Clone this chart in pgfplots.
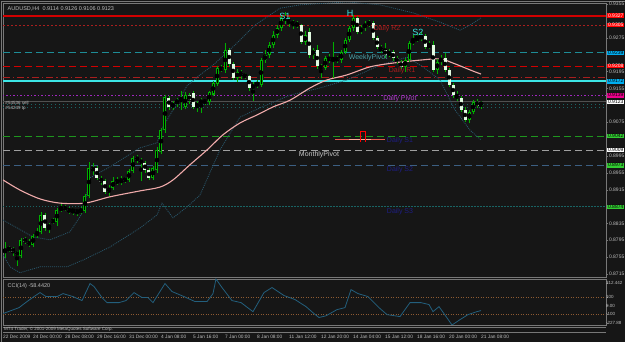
\documentclass[border=0pt]{standalone}
\usepackage{pgfplots}
\pgfplotsset{compat=1.18}
\usepackage{pgfplotstable}
\usepackage{fontspec}
\setmainfont{Liberation Sans}
\definecolor{bg}{RGB}{22,22,22}
\definecolor{frame}{RGB}{120,120,120}
\definecolor{cgreen}{RGB}{0,175,0}
\definecolor{cwhite}{RGB}{225,250,225}
\definecolor{ticktext}{RGB}{190,190,190}
\definecolor{maline}{RGB}{240,170,170}
\definecolor{band}{RGB}{40,85,105}
\definecolor{redl}{RGB}{210,0,0}
\definecolor{redd}{RGB}{170,30,30}
\definecolor{teal1}{RGB}{30,140,150}
\definecolor{cyan1}{RGB}{60,230,230}
\definecolor{magl}{RGB}{160,40,190}
\definecolor{grnl}{RGB}{30,150,30}
\definecolor{bluel}{RGB}{60,95,130}
\definecolor{navy1}{RGB}{30,30,130}
\definecolor{tealdot}{RGB}{25,100,100}
\definecolor{ccil}{RGB}{35,95,125}
\definecolor{ccilev}{RGB}{140,90,50}
\definecolor{grayA}{RGB}{80,80,80}
\definecolor{grayB}{RGB}{160,160,160}
\definecolor{silverT}{RGB}{200,200,200}
\definecolor{ordA}{RGB}{230,90,80}
\definecolor{ordB}{RGB}{255,170,150}
\definecolor{limeg}{RGB}{50,205,50}
\newcommand\fs[1]{\fontsize{#1}{#1}\selectfont}

\pgfplotstableread{
x o h l c
0 0.8767 0.8790 0.8752 0.8772
1 0.8772 0.8782 0.8766 0.8777
4 0.8758 0.8800 0.8752 0.8796
7 0.8784 0.8810 0.8780 0.8805
8 0.8805 0.8824 0.8800 0.8815
9 0.8815 0.8862 0.8810 0.8855
11 0.8824 0.8836 0.8812 0.8831
13 0.8838 0.8872 0.8830 0.8867
14 0.8867 0.8880 0.8862 0.8872
17 0.8864 0.8871 0.8856 0.8867
19 0.8862 0.8874 0.8858 0.8867
20 0.8864 0.8905 0.8860 0.8900
21 0.8900 0.8980 0.8895 0.8966
26 0.8910 0.8925 0.8900 0.8919
27 0.8919 0.8945 0.8914 0.8936
29 0.8931 0.8948 0.8926 0.8940
31 0.8938 0.8965 0.8934 0.8959
32 0.8959 0.8995 0.8955 0.8990
37 0.8943 0.8972 0.8938 0.8966
38 0.8961 0.9015 0.8955 0.9009
39 0.9004 0.9060 0.9000 0.9056
40 0.9056 0.9140 0.9050 0.9135
42 0.9111 0.9125 0.9104 0.9120
43 0.9120 0.9133 0.9112 0.9127
44 0.9127 0.9150 0.9104 0.9132
45 0.9111 0.9146 0.9106 0.9139
48 0.9111 0.9126 0.9100 0.9120
49 0.9120 0.9133 0.9096 0.9127
51 0.9123 0.9150 0.9115 0.9146
52 0.9141 0.9172 0.9137 0.9168
53 0.9166 0.9208 0.9160 0.9203
55 0.9199 0.9263 0.9192 0.9246
58 0.9180 0.9200 0.9170 0.9194
62 0.9156 0.9170 0.9125 0.9163
63 0.9163 0.9174 0.9155 0.9168
64 0.9163 0.9228 0.9158 0.9222
65 0.9222 0.9246 0.9215 0.9234
66 0.9234 0.9265 0.9228 0.9258
67 0.9258 0.9290 0.9250 0.9282
68 0.9282 0.9305 0.9275 0.9298
69 0.9298 0.9330 0.9290 0.9322
75 0.9265 0.9290 0.9258 0.9282
77 0.9234 0.9252 0.9225 0.9246
80 0.9203 0.9232 0.9198 0.9227
82 0.9222 0.9265 0.9180 0.9227
84 0.9222 0.9246 0.9216 0.9241
85 0.9241 0.9275 0.9236 0.9270
86 0.9270 0.9303 0.9265 0.9298
87 0.9298 0.9330 0.9292 0.9322
89 0.9289 0.9305 0.9284 0.9298
90 0.9298 0.9316 0.9292 0.9308
91 0.9308 0.9318 0.9300 0.9310
96 0.9234 0.9248 0.9230 0.9241
100 0.9206 0.9228 0.9195 0.9222
101 0.9222 0.9268 0.9218 0.9263
102 0.9263 0.9282 0.9258 0.9270
103 0.9270 0.9285 0.9266 0.9274
104 0.9274 0.9288 0.9268 0.9279
106 0.9253 0.9268 0.9248 0.9258
108 0.9199 0.9225 0.9190 0.9218
109 0.9218 0.9235 0.9210 0.9227
116 0.9080 0.9105 0.9072 0.9099
117 0.9099 0.9128 0.9094 0.9123
119 0.9114 0.9126 0.9106 0.9123
}\bull

\pgfplotstableread{
x o h l c
2 0.8777 0.8780 0.8758 0.8767
3 0.8767 0.8770 0.8735 0.8760
5 0.8800 0.8803 0.8786 0.8791
6 0.8791 0.8798 0.8778 0.8784
10 0.8855 0.8860 0.8818 0.8824
12 0.8843 0.8848 0.8833 0.8838
15 0.8874 0.8878 0.8864 0.8869
16 0.8869 0.8873 0.8858 0.8864
18 0.8867 0.8870 0.8853 0.8862
22 0.8966 0.8978 0.8950 0.8961
23 0.8966 0.8970 0.8938 0.8943
24 0.8943 0.8948 0.8925 0.8933
25 0.8936 0.8940 0.8905 0.8910
28 0.8936 0.8945 0.8925 0.8931
30 0.8940 0.8946 0.8930 0.8938
33 0.8992 0.8998 0.8978 0.8985
34 0.8985 0.8990 0.8935 0.8978
35 0.8978 0.8982 0.8955 0.8961
36 0.8961 0.8966 0.8938 0.8943
41 0.9132 0.9138 0.9105 0.9111
46 0.9139 0.9144 0.9118 0.9127
47 0.9144 0.9148 0.9106 0.9111
50 0.9127 0.9131 0.9115 0.9123
54 0.9203 0.9210 0.9194 0.9199
56 0.9246 0.9250 0.9206 0.9213
57 0.9213 0.9218 0.9176 0.9180
59 0.9194 0.9199 0.9178 0.9187
60 0.9187 0.9191 0.9178 0.9184
61 0.9184 0.9188 0.9150 0.9156
70 0.9322 0.9335 0.9308 0.9317
71 0.9317 0.9325 0.9300 0.9312
72 0.9312 0.9318 0.9296 0.9308
73 0.9308 0.9315 0.9298 0.9305
74 0.9305 0.9308 0.9260 0.9265
76 0.9288 0.9298 0.9228 0.9234
78 0.9246 0.9258 0.9200 0.9208
79 0.9208 0.9212 0.9180 0.9203
81 0.9227 0.9236 0.9215 0.9222
83 0.9227 0.9232 0.9216 0.9222
88 0.9322 0.9326 0.9284 0.9289
92 0.9310 0.9314 0.9270 0.9274
93 0.9274 0.9278 0.9248 0.9253
94 0.9253 0.9258 0.9238 0.9246
95 0.9246 0.9262 0.9228 0.9234
97 0.9241 0.9246 0.9220 0.9227
98 0.9227 0.9232 0.9212 0.9218
99 0.9218 0.9222 0.9200 0.9206
105 0.9279 0.9284 0.9248 0.9253
107 0.9258 0.9268 0.9194 0.9199
110 0.9227 0.9240 0.9194 0.9199
111 0.9199 0.9204 0.9158 0.9163
112 0.9163 0.9168 0.9132 0.9139
113 0.9139 0.9150 0.9125 0.9132
114 0.9132 0.9138 0.9100 0.9104
115 0.9104 0.9110 0.9075 0.9080
118 0.9123 0.9130 0.9108 0.9114
}\bear

\begin{document}
\begin{tikzpicture}
\path[use as bounding box] (0pt,0pt) rectangle (625pt,342pt);
\fill[bg] (0pt,0pt) rectangle (625pt,342pt);
\draw[frame,line width=0.8pt] (1.5pt,0pt) -- (1.5pt,340.5pt) -- (625pt,340.5pt);

% ---------------- main price panel ----------------
\begin{axis}[
  at={(3pt,65pt)}, anchor=south west, scale only axis,
  width=603pt, height=274pt,
  xmin=-0.5, xmax=150.25, ymin=0.87079, ymax=0.93574,
  clip mode=individual,
  axis line style={draw=frame, line width=0.8pt},
  xtick=\empty,
  ytick={0.8715,0.8755,0.8795,0.8835,0.8915,0.8955,0.8995,0.9075,0.9155,0.9195,0.9275,0.9355},
  yticklabels={0.8715,0.8755,0.8795,0.8835,0.8915,0.8955,0.8995,0.9075,0.9155,0.9195,0.9275,0.9355},
  ytick pos=right, yticklabel pos=right,
  tick align=outside, major tick length=2pt,
  tick style={draw=frame},
  yticklabel style={font=\fs{5}, text=ticktext, anchor=west, xshift=-2.5pt},
  /pgf/number format/assume math mode=true,
]
% pivot / level lines
\addplot[redl, line width=1.8pt] coordinates {(-0.5,0.9327) (150.25,0.9327)};
\addplot[redd, line width=0.9pt, dash pattern=on 2pt off 2pt] coordinates {(-0.5,0.9305) (150.25,0.9305)};
\addplot[teal1, line width=0.9pt, dash pattern=on 7pt off 4pt] coordinates {(-0.5,0.9239) (150.25,0.9239)};
\addplot[redl, line width=0.9pt, dash pattern=on 7pt off 4pt] coordinates {(-0.5,0.9208) (150.25,0.9208)};
\addplot[redd, line width=0.9pt, dash pattern=on 7pt off 3pt on 1.5pt off 3pt] coordinates {(-0.5,0.9182) (150.25,0.9182)};
\addplot[cyan1, line width=1.6pt] coordinates {(-0.5,0.9172) (150.25,0.9172)};
\addplot[magl, line width=0.9pt, dash pattern=on 1.5pt off 2pt] coordinates {(-0.5,0.9139) (150.25,0.9139)};
\addplot[grayA, line width=0.8pt] coordinates {(-0.5,0.9123) (150.25,0.9123)};
\addplot[tealdot, line width=0.6pt, dash pattern=on 1pt off 3pt] coordinates {(-0.5,0.9118) (150.25,0.9118)};
\addplot[tealdot, line width=0.6pt, dash pattern=on 1pt off 3pt] coordinates {(-0.5,0.9109) (150.25,0.9109)};
\addplot[grnl, line width=0.9pt, dash pattern=on 7pt off 4pt] coordinates {(-0.5,0.9042) (150.25,0.9042)};
\addplot[grayB, line width=0.9pt, dash pattern=on 7pt off 4pt] coordinates {(-0.5,0.9009) (150.25,0.9009)};
\addplot[bluel, line width=0.9pt, dash pattern=on 7pt off 4pt] coordinates {(-0.5,0.8973) (150.25,0.8973)};
\addplot[tealdot, line width=0.9pt, dash pattern=on 1.5pt off 1.5pt] coordinates {(-0.5,0.8874) (150.25,0.8874)};

% Bollinger bands
\addplot[band, line width=0.8pt, dash pattern=on 1pt off 1pt] coordinates {
(-0.5,0.8843) (7,0.8803) (11.25,0.8796) (16.25,0.8815) (19.5,0.8862) (21.25,0.8943)
(26.25,0.8969) (33.75,0.9014) (38,0.9026) (39.5,0.9064) (42,0.9104) (45.5,0.9161)
(48.75,0.9187) (52,0.9210) (57.5,0.9258) (62.5,0.9305) (68.75,0.9345) (73.75,0.9353)
(85.5,0.9360) (93.75,0.9353) (102,0.9334) (108.75,0.9312) (113.75,0.9293)
(116.25,0.9305) (119,0.9322)};
\addplot[band, line width=0.8pt, dash pattern=on 1pt off 1pt] coordinates {
(-0.5,0.8760) (1.25,0.8732) (3.75,0.8718) (8.75,0.8732) (15.5,0.8732) (19.5,0.8748)
(26.25,0.8779) (33.75,0.8824) (38,0.8855) (39.25,0.8883) (42,0.8848) (45.5,0.8874)
(48.75,0.8902) (53.75,0.9009) (58.75,0.9087) (63.75,0.9109) (71.25,0.9139)
(78.75,0.9156) (85.5,0.9175) (93.75,0.9210) (100.5,0.9229) (104.5,0.9206)
(108.75,0.9175) (112.5,0.9104) (116.25,0.9056) (119,0.9033)};

% moving average
\addplot[maline, line width=1.1pt, smooth] coordinates {
(-0.5,0.8938) (3.75,0.8914) (8.75,0.8893) (13.75,0.8883) (20,0.8883) (26.25,0.8898)
(33.75,0.8912) (38.75,0.8921) (42,0.8938) (46.25,0.8974) (50.5,0.9009) (54.5,0.9045)
(58.75,0.9073) (63,0.9092) (67,0.9111) (71.25,0.9127) (76.25,0.9156) (80.5,0.9175)
(85.5,0.9187) (91.25,0.9206) (97,0.9215) (103.75,0.9222) (108.75,0.9225) (112,0.9215)
(117,0.9196) (119,0.9189)};

% candle wicks
\addplot[only marks, mark=none, error bars/.cd, y dir=both, y explicit, error mark=none,
  error bar style={line width=0.9pt, cgreen}]
  table[x=x, y expr={(\thisrow{h}+\thisrow{l})/2}, y error expr={(\thisrow{h}-\thisrow{l})/2}] {\bull};
\addplot[only marks, mark=none, error bars/.cd, y dir=both, y explicit, error mark=none,
  error bar style={line width=0.9pt, cgreen}]
  table[x=x, y expr={(\thisrow{h}+\thisrow{l})/2}, y error expr={(\thisrow{h}-\thisrow{l})/2}] {\bear};
% bull bodies (hollow)
\addplot[only marks, mark=none, error bars/.cd, y dir=both, y explicit, error mark=none,
  error bar style={line width=3pt, cgreen}]
  table[x=x, y expr={(\thisrow{o}+\thisrow{c})/2}, y error expr={(\thisrow{c}-\thisrow{o})/2+0.00005}] {\bull};
\addplot[only marks, mark=none, error bars/.cd, y dir=both, y explicit, error mark=none,
  error bar style={line width=1pt, black}]
  table[x=x, y expr={(\thisrow{o}+\thisrow{c})/2}, y error expr={max((\thisrow{c}-\thisrow{o})/2-0.0002,0)}] {\bull};
% bear bodies (filled)
\addplot[only marks, mark=none, error bars/.cd, y dir=both, y explicit, error mark=none,
  error bar style={line width=3pt, cwhite}]
  table[x=x, y expr={(\thisrow{o}+\thisrow{c})/2}, y error expr={(\thisrow{o}-\thisrow{c})/2+0.00005}] {\bear};

% order marker
\addplot[ordA, line width=1.2pt] coordinates {(82.5,0.9033) (95,0.9033)};
\addplot[ordB, line width=1.2pt] coordinates {(86,0.9033) (91.5,0.9033)};
\addplot[red, line width=0.8pt] coordinates {(88.75,0.9028) (88.75,0.9054) (90,0.9054) (90,0.9028)};

% chart texts
\node[font=\fs{7}, text=redd] at (axis cs:95.5,0.9296) {Daily R2};
\node[font=\fs{7}, text=teal1!80!white] at (axis cs:90.75,0.9227) {WeeklyPivot};
\node[font=\fs{7}, text=redd] at (axis cs:99.25,0.9196) {Daily R1};
\node[font=\fs{7}, text=magl!90!white] at (axis cs:98.75,0.9130) {Daily Pivot};
\node[font=\fs{7}, text=navy1] at (axis cs:98.75,0.9030) {Daily S1};
\node[font=\fs{7}, text=silverT] at (axis cs:78.5,0.8997) {MonthlyPivot};
\node[font=\fs{7}, text=navy1] at (axis cs:98.75,0.8962) {Daily S2};
\node[font=\fs{7}, text=navy1] at (axis cs:98.75,0.8862) {Daily S3};
\node[font=\fs{9}, text=cyan1] at (axis cs:70,0.9325) {S1};
\node[font=\fs{9}, text=cyan1] at (axis cs:86.25,0.9333) {H};
\node[font=\fs{9}, text=cyan1] at (axis cs:103.25,0.9288) {S2};
\node[font=\fs{4.5}, text=ticktext, anchor=west, inner sep=0.3pt] at (axis cs:0,0.91200) {\#54536 sell};
\node[font=\fs{4.5}, text=ticktext, anchor=west, inner sep=0.3pt] at (axis cs:0,0.91080) {\#54249 tp};
\node[font=\fs{5.5}, text=ticktext, anchor=north west] at (axis cs:-0.2,0.9357) {AUDUSD,H4\ \ 0.9114 0.9126 0.9106 0.9123};

% right-side price boxes
\begin{scope}[every node/.style={font=\fs{5}, inner xsep=0.8pt, inner ysep=0.6pt, anchor=west, minimum width=17pt}]
\node[fill=red, text=white] at (axis cs:150.5,0.9327) {0.9327};
\node[fill=red, text=white] at (axis cs:150.5,0.9305) {0.9305};
\node[fill=cyan, text=black] at (axis cs:150.5,0.9239) {0.9239};
\node[fill=red, text=white] at (axis cs:150.5,0.9208) {0.9208};
\node[fill=cyan, text=black] at (axis cs:150.5,0.9172) {0.9172};
\node[fill=magenta, text=black] at (axis cs:150.5,0.9139) {0.9139};
\node[fill=white, text=black] at (axis cs:150.5,0.9123) {0.9123};
\node[fill=limeg, text=black] at (axis cs:150.5,0.9042) {0.9042};
\node[fill=white, text=black] at (axis cs:150.5,0.9009) {0.9009};
\node[fill=limeg, text=black] at (axis cs:150.5,0.8973) {0.8973};
\node[fill=limeg, text=black] at (axis cs:150.5,0.8874) {0.8874};
\end{scope}
\end{axis}

% ---------------- CCI panel ----------------
\begin{axis}[
  at={(3pt,17pt)}, anchor=south west, scale only axis,
  width=603pt, height=46pt,
  xmin=-0.5, xmax=150.25, ymin=-227.88, ymax=312.442,
  clip mode=individual,
  axis line style={draw=frame, line width=0.8pt},
  xtick={-0.5,7,15,23,31,39,47,55,63,71,79,87,95,103,111,119},
  xticklabels={22 Dec 2009,24 Dec 00:00,28 Dec 08:00,29 Dec 16:00,31 Dec 00:00,4 Jan 08:00,5 Jan 16:00,7 Jan 00:00,8 Jan 08:00,11 Jan 12:00,12 Jan 20:00,14 Jan 04:00,15 Jan 12:00,18 Jan 16:00,20 Jan 00:00,21 Jan 08:00},
  xticklabel style={font=\fs{4.8}, text=ticktext, anchor=north west, yshift=-7.5pt, xshift=-0.5pt, inner sep=0.5pt},
  xtick style={draw=none},
  ytick={-200,-100,0,100,268},
  yticklabels={-227.88,-100,0.00,100,312.442},
  ytick pos=right, yticklabel pos=right,
  tick align=outside, major tick length=2pt,
  ytick style={draw=frame},
  yticklabel style={font=\fs{4.5}, text=ticktext, anchor=west, xshift=-3pt, inner xsep=1pt},
  /pgf/number format/assume math mode=true,
]
\addplot[ccilev, line width=0.7pt, dash pattern=on 1pt off 1.5pt] coordinates {(-0.5,100) (150.25,100)};
\addplot[ccilev, line width=0.7pt, dash pattern=on 1pt off 1.5pt] coordinates {(-0.5,-100) (150.25,-100)};
\addplot[ccil, line width=0.8pt] coordinates {
(-0.5,-94) (3.5,-24) (5.5,47) (7.25,106) (8.75,153) (10.25,106) (13,106) (14.5,141) (17,106)
(19.25,59) (21.25,259) (22.25,224) (24.25,94) (25.5,35) (28.5,35) (30.25,59) (32.25,153)
(34.25,94) (35.75,94) (37,35) (40,259) (41.75,165) (44.75,106) (47.5,47) (50.5,47) (52,141)
(52.75,312.4) (54.25,212) (56.75,59) (59,35) (62,-71) (64.75,153) (66.75,212) (69.75,118)
(72.5,71) (75.25,-12) (77.25,-94) (78.5,-140) (80.25,-120) (83,-47) (85,-24) (86.5,188)
(88.25,141) (90.75,106) (93.5,-24) (95.5,-106) (98.75,-129) (101.25,35) (104,35) (106,12)
(107,-71) (108.5,-12) (109.75,-94) (111.75,-227.9) (113.75,-165) (115.75,-106) (118,-71)
(119,-58.44)};
\node[font=\fs{5.5}, text=ticktext, anchor=north west] at (axis cs:-0.2,305) {CCI(14) -58.4420};
\end{axis}

% bottom strip
\draw[frame, line width=0.8pt] (3pt,15pt) -- (606pt,15pt);
\draw[frame, line width=0.8pt] (3pt,10pt) -- (606pt,10pt);
\node[font=\fs{4.5}, text=ticktext, anchor=west, inner sep=0pt] at (4pt,12.6pt) {MT4 Trader, \textcopyright\ 2001-2009 MetaQuotes Software Corp.};
\end{tikzpicture}
\end{document}
